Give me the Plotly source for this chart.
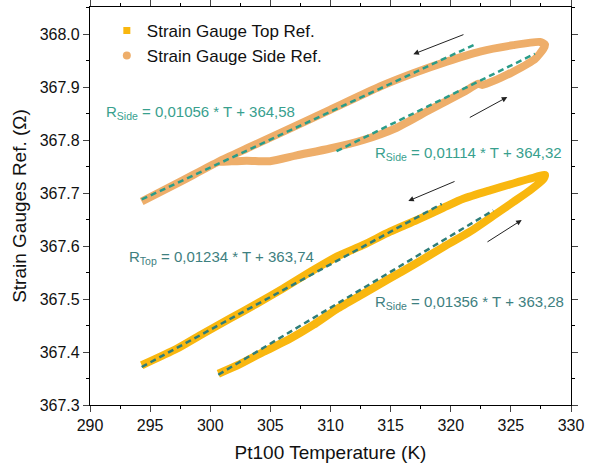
import plotly.graph_objects as go

# ---------------- data ----------------
# Strain Gauge Top Ref. : heating branch (lower) then cooling branch (upper)
top_T = [300.67, 302.47, 304.41, 306.63, 308.57, 310.52, 312.73, 314.95, 317.17,
         319.38, 321.60, 323.54, 325.20, 326.59, 327.70, 327.84,
         326.59, 325.20, 323.26, 321.04, 319.38, 317.17, 314.95, 312.73, 310.52,
         308.30, 306.07, 303.86, 301.64, 299.42, 297.21, 294.30]
top_R = [367.359, 367.377, 367.400, 367.425, 367.451, 367.481, 367.510, 367.539, 367.568,
         367.598, 367.627, 367.657, 367.683, 367.705, 367.726, 367.734,
         367.727, 367.718, 367.705, 367.689, 367.672, 367.649, 367.627, 367.602, 367.580,
         367.551, 367.520, 367.491, 367.463, 367.435, 367.406, 367.375]

# Strain Gauge Side Ref. : heating branch (lower) then cooling branch (upper)
side_T = [300.67, 301.09, 303.03, 304.97, 307.19, 309.96, 312.73, 315.50, 318.27,
          321.04, 322.29, 322.60, 323.82, 325.20, 327.01, 327.70, 327.84,
          327.42, 325.20, 322.43, 319.66, 316.89, 314.12, 309.96, 305.80, 303.03,
          300.67, 297.48, 294.30]
side_R = [367.759, 367.759, 367.761, 367.760, 367.771, 367.784, 367.800, 367.823, 367.857,
          367.890, 367.906, 367.904, 367.914, 367.929, 367.953, 367.972, 367.980,
          367.985, 367.979, 367.967, 367.948, 367.926, 367.901, 367.857, 367.813, 367.784,
          367.759, 367.721, 367.684]

# linear fits: (slope, intercept, T start, T end, label)
fit_slopes = [0.01056, 0.01114, 0.01234, 0.01356]
fit_intercepts = [364.58, 364.32, 363.74, 363.28]
fit_T_start = [294.3, 310.5, 294.3, 300.67]
fit_T_end = [322.15, 327.0, 319.25, 323.54]
fit_names = ["Side", "Side", "Top", "Side"]
fit_colors = ["#2A9C89", "#2A9C89", "#2E7D79", "#2E7D79"]
label_colors = ["#38A08E", "#38A08E", "#3E8080", "#3E8080"]
label_T = [291.2, 313.5, 293.1, 313.5]
label_R = [367.852, 367.774, 367.578, 367.494]

# direction arrows: tail -> head
arrow_tail_T = [321.18, 321.46, 320.44, 322.93]
arrow_tail_R = [368.000, 367.841, 367.723, 367.606]
arrow_head_T = [316.89, 324.70, 316.47, 325.90]
arrow_head_R = [367.962, 367.881, 367.685, 367.649]

x_ticks = [290, 295, 300, 305, 310, 315, 320, 325, 330]
y_ticks = [367.3, 367.4, 367.5, 367.6, 367.7, 367.8, 367.9, 368.0]

TOP_COLOR = "#F9B70F"
SIDE_COLOR = "#EEAE6A"
FONT = "Arial, Liberation Sans, sans-serif"

fig = go.Figure()

fig.add_trace(go.Scatter(x=top_T, y=top_R, mode="lines",
                         line=dict(color=TOP_COLOR, width=8, shape="spline", smoothing=0.6),
                         showlegend=False, hoverinfo="skip"))
fig.add_trace(go.Scatter(x=side_T, y=side_R, mode="lines",
                         line=dict(color=SIDE_COLOR, width=8, shape="spline", smoothing=0.6),
                         showlegend=False, hoverinfo="skip"))

# legend entries
fig.add_trace(go.Scatter(x=[None], y=[None], mode="markers", name="Strain Gauge Top Ref.",
                         marker=dict(symbol="square", size=7, color=TOP_COLOR)))
fig.add_trace(go.Scatter(x=[None], y=[None], mode="markers", name="Strain Gauge Side Ref.",
                         marker=dict(symbol="circle", size=8, color=SIDE_COLOR)))

# fit lines
for a, b, t0, t1, c in zip(fit_slopes, fit_intercepts, fit_T_start, fit_T_end, fit_colors):
    fig.add_trace(go.Scatter(x=[t0, t1], y=[a * t0 + b, a * t1 + b], mode="lines",
                             line=dict(color=c, width=2.5, dash="6px,4px"),
                             showlegend=False, hoverinfo="skip"))

annotations = []
for a, b, n, c, tx, ty in zip(fit_slopes, fit_intercepts, fit_names, label_colors, label_T, label_R):
    s = f"{a:.5f}".replace(".", ",")
    i = f"{b:.2f}".replace(".", ",")
    annotations.append(dict(x=tx, y=ty, xref="x", yref="y", xanchor="left", yanchor="middle",
                            showarrow=False,
                            text=f"R<sub>{n}</sub> = {s} * T + {i}",
                            font=dict(family=FONT, size=15, color=c)))
for tx, ty, hx, hy in zip(arrow_tail_T, arrow_tail_R, arrow_head_T, arrow_head_R):
    annotations.append(dict(x=hx, y=hy, ax=tx, ay=ty, xref="x", yref="y", axref="x", ayref="y",
                            text="", showarrow=True, arrowhead=2, arrowsize=1.1,
                            arrowwidth=1, arrowcolor="#222222"))

fig.update_layout(
    width=596, height=470,
    margin=dict(l=90, r=25, t=7, b=65),
    paper_bgcolor="white", plot_bgcolor="white",
    font=dict(family=FONT, size=16, color="#111111"),
    annotations=annotations,
    legend=dict(x=0.035, y=0.985, xanchor="left", yanchor="top",
                bgcolor="rgba(0,0,0,0)", font=dict(family=FONT, size=17),
                tracegroupgap=0),
)
fig.update_xaxes(range=[290, 330], tickvals=x_ticks, ticks="outside", ticklen=6,
                 tickwidth=1, showline=True, linecolor="black", linewidth=1.2,
                 mirror="ticks", showgrid=False, zeroline=False, automargin=False,
                 minor=dict(dtick=2.5, ticks="outside", ticklen=3, tickcolor="black"),
                 title=dict(text="Pt100 Temperature (K)", font=dict(size=19), standoff=12),
                 tickfont=dict(size=16))
fig.update_yaxes(range=[367.3, 368.051], tickvals=y_ticks, tickformat=".1f",
                 ticks="outside", ticklen=6, tickwidth=1, showline=True, linecolor="black",
                 linewidth=1.2, mirror="ticks", showgrid=False, zeroline=False, automargin=False,
                 minor=dict(dtick=0.05, ticks="outside", ticklen=3, tickcolor="black"),
                 title=dict(text="Strain Gauges Ref. (Ω)", font=dict(size=19), standoff=8),
                 tickfont=dict(size=16))

fig.write_html("out.html", config={"displayModeBar": False},
               post_script="document.body.style.margin='0';")
